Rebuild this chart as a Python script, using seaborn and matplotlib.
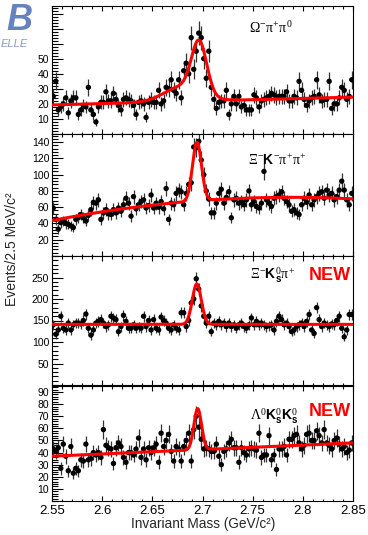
import numpy as np
import pandas as pd
import seaborn as sns
import matplotlib.pyplot as plt
from matplotlib.ticker import MultipleLocator

# 2.5 MeV bins from 2.55 to 2.85 GeV
x_lo, x_hi, bin_w = 2.55, 2.85, 0.0025

# events per bin
omega_pipi = [25, 35, 16, 18, 20, 24, 14, 22, 24, 24,
              13, 16, 19, 18, 31, 16, 13, 8, 18, 21,
              21, 28, 22, 22, 27, 23, 19, 16, 23, 24,
              23, 22, 19, 13, 21, 22, 20, 11, 21, 23,
              21, 21, 29, 20, 22, 31, 30, 36, 29, 27,
              36, 24, 42, 47, 40, 64, 43, 55, 67, 64,
              50, 37, 55, 31, 23, 17, 21, 22, 22, 29,
              13, 20, 25, 20, 25, 18, 19, 16, 16, 16,
              26, 24, 18, 22, 23, 24, 25, 27, 26, 24,
              25, 25, 25, 28, 22, 22, 25, 24, 35, 29,
              23, 19, 22, 24, 25, 36, 26, 22, 23, 23,
              35, 17, 20, 20, 24, 31, 29, 23, 25, 36]
xi_k_pipi = [59, 45, 33, 41, 43, 40, 39, 37, 35, 45,
             47, 51, 47, 43, 50, 57, 66, 65, 69, 45,
             53, 57, 52, 51, 57, 53, 59, 55, 63, 71,
             65, 49, 73, 58, 63, 67, 69, 59, 62, 75,
             59, 65, 60, 67, 58, 83, 45, 65, 63, 77,
             81, 79, 63, 77, 88, 90, 134, 133, 141, 118,
             100, 80, 70, 53, 53, 65, 77, 82, 65, 72,
             79, 47, 69, 71, 65, 67, 63, 69, 80, 63,
             67, 61, 59, 65, 104, 69, 65, 61, 71, 73,
             75, 79, 71, 67, 63, 55, 57, 53, 51, 63,
             71, 66, 75, 63, 69, 73, 77, 79, 71, 81,
             75, 77, 69, 73, 81, 92, 81, 69, 63, 77]
xi_ks_pi = [140, 118, 128, 160, 132, 128, 144, 128, 140, 144,
            144, 142, 150, 165, 132, 116, 128, 144, 148, 152,
            144, 136, 140, 160, 156, 152, 124, 136, 162, 148,
            132, 132, 140, 132, 136, 132, 160, 136, 150, 128,
            152, 132, 128, 158, 150, 144, 132, 128, 140, 132,
            128, 168, 168, 136, 150, 191, 200, 247, 223, 184,
            160, 144, 160, 124, 144, 140, 148, 140, 144, 136,
            144, 136, 140, 132, 140, 144, 136, 132, 140, 156,
            140, 148, 140, 144, 140, 136, 138, 140, 128, 148,
            160, 152, 140, 144, 136, 124, 128, 136, 140, 144,
            136, 148, 164, 128, 120, 180, 152, 136, 144, 140,
            136, 142, 140, 150, 160, 132, 112, 128, 164, 164]
lam_ks_ks = [43, 41, 44, 27, 47, 37, 25, 45, 23, 27,
             25, 34, 33, 47, 34, 35, 40, 38, 40, 36,
             59, 46, 44, 43, 31, 44, 48, 45, 36, 32,
             40, 40, 38, 43, 52, 36, 43, 34, 44, 40,
             44, 47, 32, 56, 45, 50, 55, 41, 33, 45,
             43, 33, 45, 50, 56, 33, 59, 70, 61, 51,
             43, 44, 43, 41, 41, 47, 37, 30, 41, 43,
             48, 51, 44, 44, 32, 44, 40, 38, 43, 44,
             43, 42, 56, 36, 38, 38, 54, 34, 38, 26,
             43, 43, 45, 38, 51, 51, 54, 55, 48, 43,
             46, 55, 56, 50, 50, 58, 54, 48, 59, 48,
             46, 43, 50, 52, 47, 43, 45, 40, 42, 48]

# fit results: background polynomial (c0, c1, c2 in x-2.55), signal gaussians (amp, mean, sigma)
bkg_pars = [[19.3, 17.3, 0.0], [43.6, 240.0, -504.0], [141.0, 0.0, 0.0], [37.0, 36.7, 0.0]]
sig_pars = [[(34, 2.6967, 0.0075), (10, 2.680, 0.018)],
            [(72, 2.6945, 0.0045)],
            [(94, 2.6943, 0.0045)],
            [(34, 2.6952, 0.0038)]]

channels = [r'$\Omega^{-}\pi^{+}\pi^{0}$',
            r'$\Xi^{-}\mathbf{K}^{-}\pi^{+}\pi^{+}$',
            r'$\Xi^{-}\mathbf{K}^{0}_{\mathbf{s}}\pi^{+}$',
            r'$\Lambda^{0}\mathbf{K}^{0}_{\mathbf{s}}\mathbf{K}^{0}_{\mathbf{s}}$']
is_new = [False, False, True, True]
y_max = [85, 150, 300, 95]
y_major = [10, 20, 50, 10]
hidden_labels = [[60, 70, 80], [], [], []]
label_pos = [(0.728, 0.83), (0.748, 0.787), (0.734, 0.853), (0.738, 0.739)]
new_pos = [None, None, (0.924, 0.845), (0.924, 0.78)]

sns.set_theme(style='ticks')
plt.rcParams['font.family'] = ['Liberation Sans', 'DejaVu Sans']
plt.rcParams['mathtext.fontset'] = 'custom'
plt.rcParams['mathtext.rm'] = 'Liberation Serif'
plt.rcParams['mathtext.it'] = 'Liberation Serif'
plt.rcParams['mathtext.bf'] = 'Liberation Sans:bold'
plt.rcParams['axes.linewidth'] = 0.8

W, H = 368, 535
fig = plt.figure(figsize=(W / 100, H / 100), dpi=100)
panels = [(6, 134), (134, 256), (256, 385), (386, 501)]

centres = x_lo + bin_w * (np.arange(120) + 0.5)
xf = np.linspace(x_lo, x_hi, 600)
all_counts = [omega_pipi, xi_k_pipi, xi_ks_pi, lam_ks_ks]

for i, (top, bottom) in enumerate(panels):
    ax = fig.add_axes([52 / W, 1 - bottom / H, 301 / W, (bottom - top) / H])
    df = pd.DataFrame({'mass': centres, 'events': all_counts[i]})

    # fit curve
    t = xf - x_lo
    c0, c1, c2 = bkg_pars[i]
    yf = c0 + c1 * t + c2 * t ** 2
    for amp, mu, sig in sig_pars[i]:
        yf = yf + amp * np.exp(-0.5 * ((xf - mu) / sig) ** 2)

    ax.errorbar(df['mass'], df['events'], yerr=np.sqrt(df['events']), fmt='none',
                ecolor='#333333', elinewidth=0.9, zorder=2)
    sns.scatterplot(data=df, x='mass', y='events', color='black', s=15,
                    edgecolor='none', ax=ax, zorder=3)
    sns.lineplot(x=xf, y=yf, color='#ff0000', lw=2.2, ax=ax, zorder=4)

    ax.set_xlim(x_lo, x_hi)
    ax.set_ylim(0, y_max[i])
    ax.set_xlabel('')
    ax.set_ylabel('')
    ax.xaxis.set_major_locator(MultipleLocator(0.05))
    ax.xaxis.set_minor_locator(MultipleLocator(0.01))
    ax.yaxis.set_major_locator(MultipleLocator(y_major[i]))
    ax.yaxis.set_minor_locator(MultipleLocator(y_major[i] / 5))
    ax.tick_params(axis='both', which='both', direction='in', top=True, right=False,
                   colors='black', width=0.8)
    ax.tick_params(axis='x', which='major', length=3.5)
    ax.tick_params(axis='x', which='minor', length=1.8)
    ax.tick_params(axis='y', which='major', length=8, labelsize=7.5, pad=2)
    ax.tick_params(axis='y', which='minor', length=4)
    ax.tick_params(axis='x', labelsize=9.5, pad=3)

    yt = [v for v in range(y_major[i], y_max[i] + 1, y_major[i]) if v < y_max[i]]
    ax.set_yticks(yt)
    ax.set_yticklabels(['' if v in hidden_labels[i] else str(v) for v in yt])
    if i < 3:
        ax.tick_params(axis='x', labelbottom=False)
    else:
        ax.set_xticks([2.55, 2.6, 2.65, 2.7, 2.75, 2.8, 2.85])
        ax.set_xticklabels(['2.55', '2.6', '2.65', '2.7', '2.75', '2.8', '2.85'])
    for s in ax.spines.values():
        s.set_color('black')

    lx, ly = label_pos[i]
    ax.text(lx, ly, channels[i], transform=ax.transAxes, ha='center', va='center',
            fontsize=10, color='black')
    if is_new[i]:
        nx, ny = new_pos[i]
        ax.text(nx, ny, 'NEW', transform=ax.transAxes, ha='center', va='center',
                fontsize=13, fontweight='bold', color='#ff0000')

fig.text(203 / W, 1 - 524 / H, 'Invariant Mass (GeV/c²)', ha='center', va='center', fontsize=9.8)
fig.text(12 / W, 1 - 249 / H, 'Events/2.5 MeV/c²', ha='center', va='center',
         rotation=90, fontsize=10)

# Belle logo in the corner
fig.text(6 / W, 1 - 3 / H, 'B', ha='left', va='top', fontsize=26, fontstyle='italic',
         fontweight='bold', color='#4a6cb3', alpha=0.85)
fig.text(1 / W, 1 - 44 / H, 'ELLE', ha='left', va='center', fontsize=8, fontstyle='italic',
         color='#8c9cc4')

fig.savefig('out.png', dpi=100)
